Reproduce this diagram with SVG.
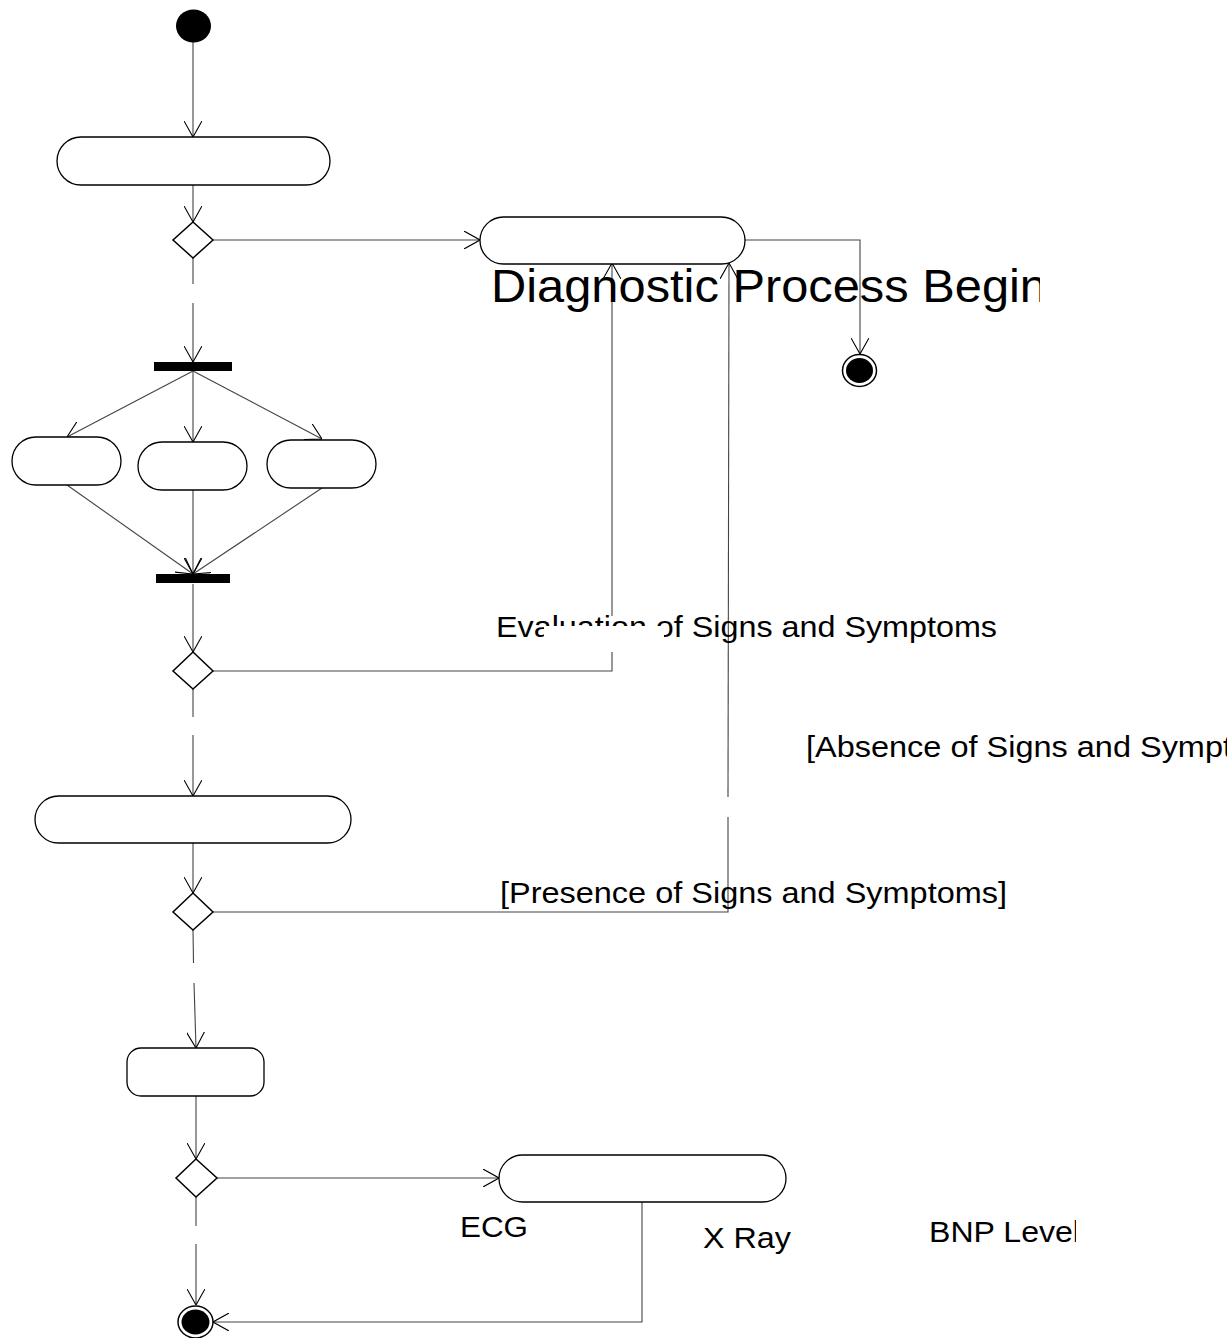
<svg xmlns="http://www.w3.org/2000/svg" width="1227" height="1338" viewBox="0 0 1227 1338">
<style>
.act{fill:#fff;stroke:#000;stroke-width:1.3}
.dec{fill:#fff;stroke:#000;stroke-width:1.5}
.bar{fill:#000}
.ln{fill:none;stroke:#444;stroke-width:1.1}
.arr{fill:none;stroke:#444;stroke-width:1.1;marker-end:url(#ah)}
.t{font-family:"Liberation Sans",Arial,sans-serif;fill:#000}
</style>
<defs>
<marker id="ah" viewBox="0 0 16 18" refX="16" refY="9" markerWidth="16" markerHeight="18" markerUnits="userSpaceOnUse" orient="auto">
<path d="M0,0 L16,9 L0,18" fill="none" stroke="#000" stroke-width="1.1"/>
</marker>
<clipPath id="c1"><rect x="480" y="250" width="560" height="70"/></clipPath>
<clipPath id="c2"><rect x="920" y="1200" width="156" height="60"/></clipPath>
</defs>
<g id="connectors">
<path class="arr" d="M193,42 L193,137"/>
<path class="arr" d="M193,185 L193,222"/>
<path class="arr" d="M213,240 L480,240"/>
<path class="arr" d="M745,240 L860,240 L860,354"/>
<path class="ln" d="M193,258 L193,284"/>
<path class="arr" d="M193,303 L193,362"/>
<path class="arr" d="M193,371 L67,437"/>
<path class="arr" d="M193,371 L193,442"/>
<path class="arr" d="M193,371 L322,439"/>
<path class="arr" d="M67,485 L193,574"/>
<path class="arr" d="M193,490 L193,574"/>
<path class="arr" d="M322,488 L193,574"/>
<path class="arr" d="M193,584 L193,652"/>
<path class="ln" d="M213,671 L612,671 L612,647"/>
<path class="arr" d="M612,616 L612,263"/>
<path class="ln" d="M193,689 L193,717"/>
<path class="arr" d="M193,735 L193,796"/>
<path class="arr" d="M193,843 L193,893"/>
<path class="ln" d="M213,912 L728,912 L728,817"/>
<path class="arr" d="M728,797 L729,263"/>
<path class="ln" d="M193,930 L193.5,963"/>
<path class="arr" d="M194,983 L196,1048"/>
<path class="arr" d="M196,1096 L196,1159"/>
<path class="arr" d="M217,1178 L499,1178"/>
<path class="ln" d="M196,1197 L196,1226"/>
<path class="arr" d="M196,1244 L196,1305"/>
<path class="arr" d="M642,1202 L642,1322 L213,1322"/>
</g>
<g id="start"><ellipse cx="193.5" cy="26" rx="17.5" ry="16.5" fill="#000"/></g>
<g id="act1"><rect class="act" x="57" y="137" width="273" height="48" rx="24"/></g>
<g id="dec1"><path class="dec" d="M193,222 L213,240 L193,258 L173,240 Z"/></g>
<g id="act2"><rect class="act" x="480" y="217" width="265" height="47" rx="23.5"/></g>
<g id="end1"><ellipse cx="859.5" cy="370.5" rx="17" ry="16" fill="#fff" stroke="#000" stroke-width="1.5"/><ellipse cx="859.5" cy="370.5" rx="13.5" ry="12.5" fill="#000"/></g>
<g id="fork"><rect class="bar" x="154" y="362" width="78" height="9"/></g>
<g id="actA"><rect class="act" x="12" y="437" width="109" height="48" rx="24"/></g>
<g id="actB"><rect class="act" x="138" y="442" width="109" height="48" rx="24"/></g>
<g id="actC"><rect class="act" x="267" y="440" width="109" height="48" rx="24"/></g>
<g id="join"><rect class="bar" x="156" y="574" width="74" height="9"/></g>
<g id="dec2"><path class="dec" d="M193,652 L213,671 L193,689 L173,671 Z"/></g>
<g id="act3"><rect class="act" x="35" y="796" width="316" height="47" rx="23.5"/></g>
<g id="dec3"><path class="dec" d="M193,893 L213,912 L193,930 L173,912 Z"/></g>
<g id="act4"><rect class="act" x="127" y="1048" width="137" height="48" rx="14"/></g>
<g id="dec4"><path class="dec" d="M196,1159 L217,1178 L196,1197 L176,1178 Z"/></g>
<g id="act5"><rect class="act" x="499" y="1155" width="287" height="47" rx="23.5"/></g>
<g id="end2"><ellipse cx="195.5" cy="1322" rx="17.5" ry="16" fill="#fff" stroke="#000" stroke-width="1.5"/><ellipse cx="195.5" cy="1322" rx="14" ry="12.5" fill="#000"/></g>
<g id="labels">
<text class="t" x="491" y="302" font-size="46" textLength="556" lengthAdjust="spacingAndGlyphs" clip-path="url(#c1)">Diagnostic Process Begin</text>
<text class="t" x="496" y="637" font-size="30" textLength="501" lengthAdjust="spacingAndGlyphs">Evaluation of Signs and Symptoms</text>
<rect x="544" y="626" width="120" height="26" fill="#fff"/>
<text class="t" x="806" y="757" font-size="30" textLength="426" lengthAdjust="spacingAndGlyphs">[Absence of Signs and Sympt</text>
<text class="t" x="500" y="903" font-size="30" textLength="507" lengthAdjust="spacingAndGlyphs">[Presence of Signs and Symptoms]</text>
<text class="t" x="460" y="1237" font-size="29" textLength="68" lengthAdjust="spacingAndGlyphs">ECG</text>
<text class="t" x="703" y="1248" font-size="30" textLength="88" lengthAdjust="spacingAndGlyphs">X Ray</text>
<text class="t" x="929" y="1242" font-size="30" textLength="151" lengthAdjust="spacingAndGlyphs" clip-path="url(#c2)">BNP Level</text>
</g>
</svg>
